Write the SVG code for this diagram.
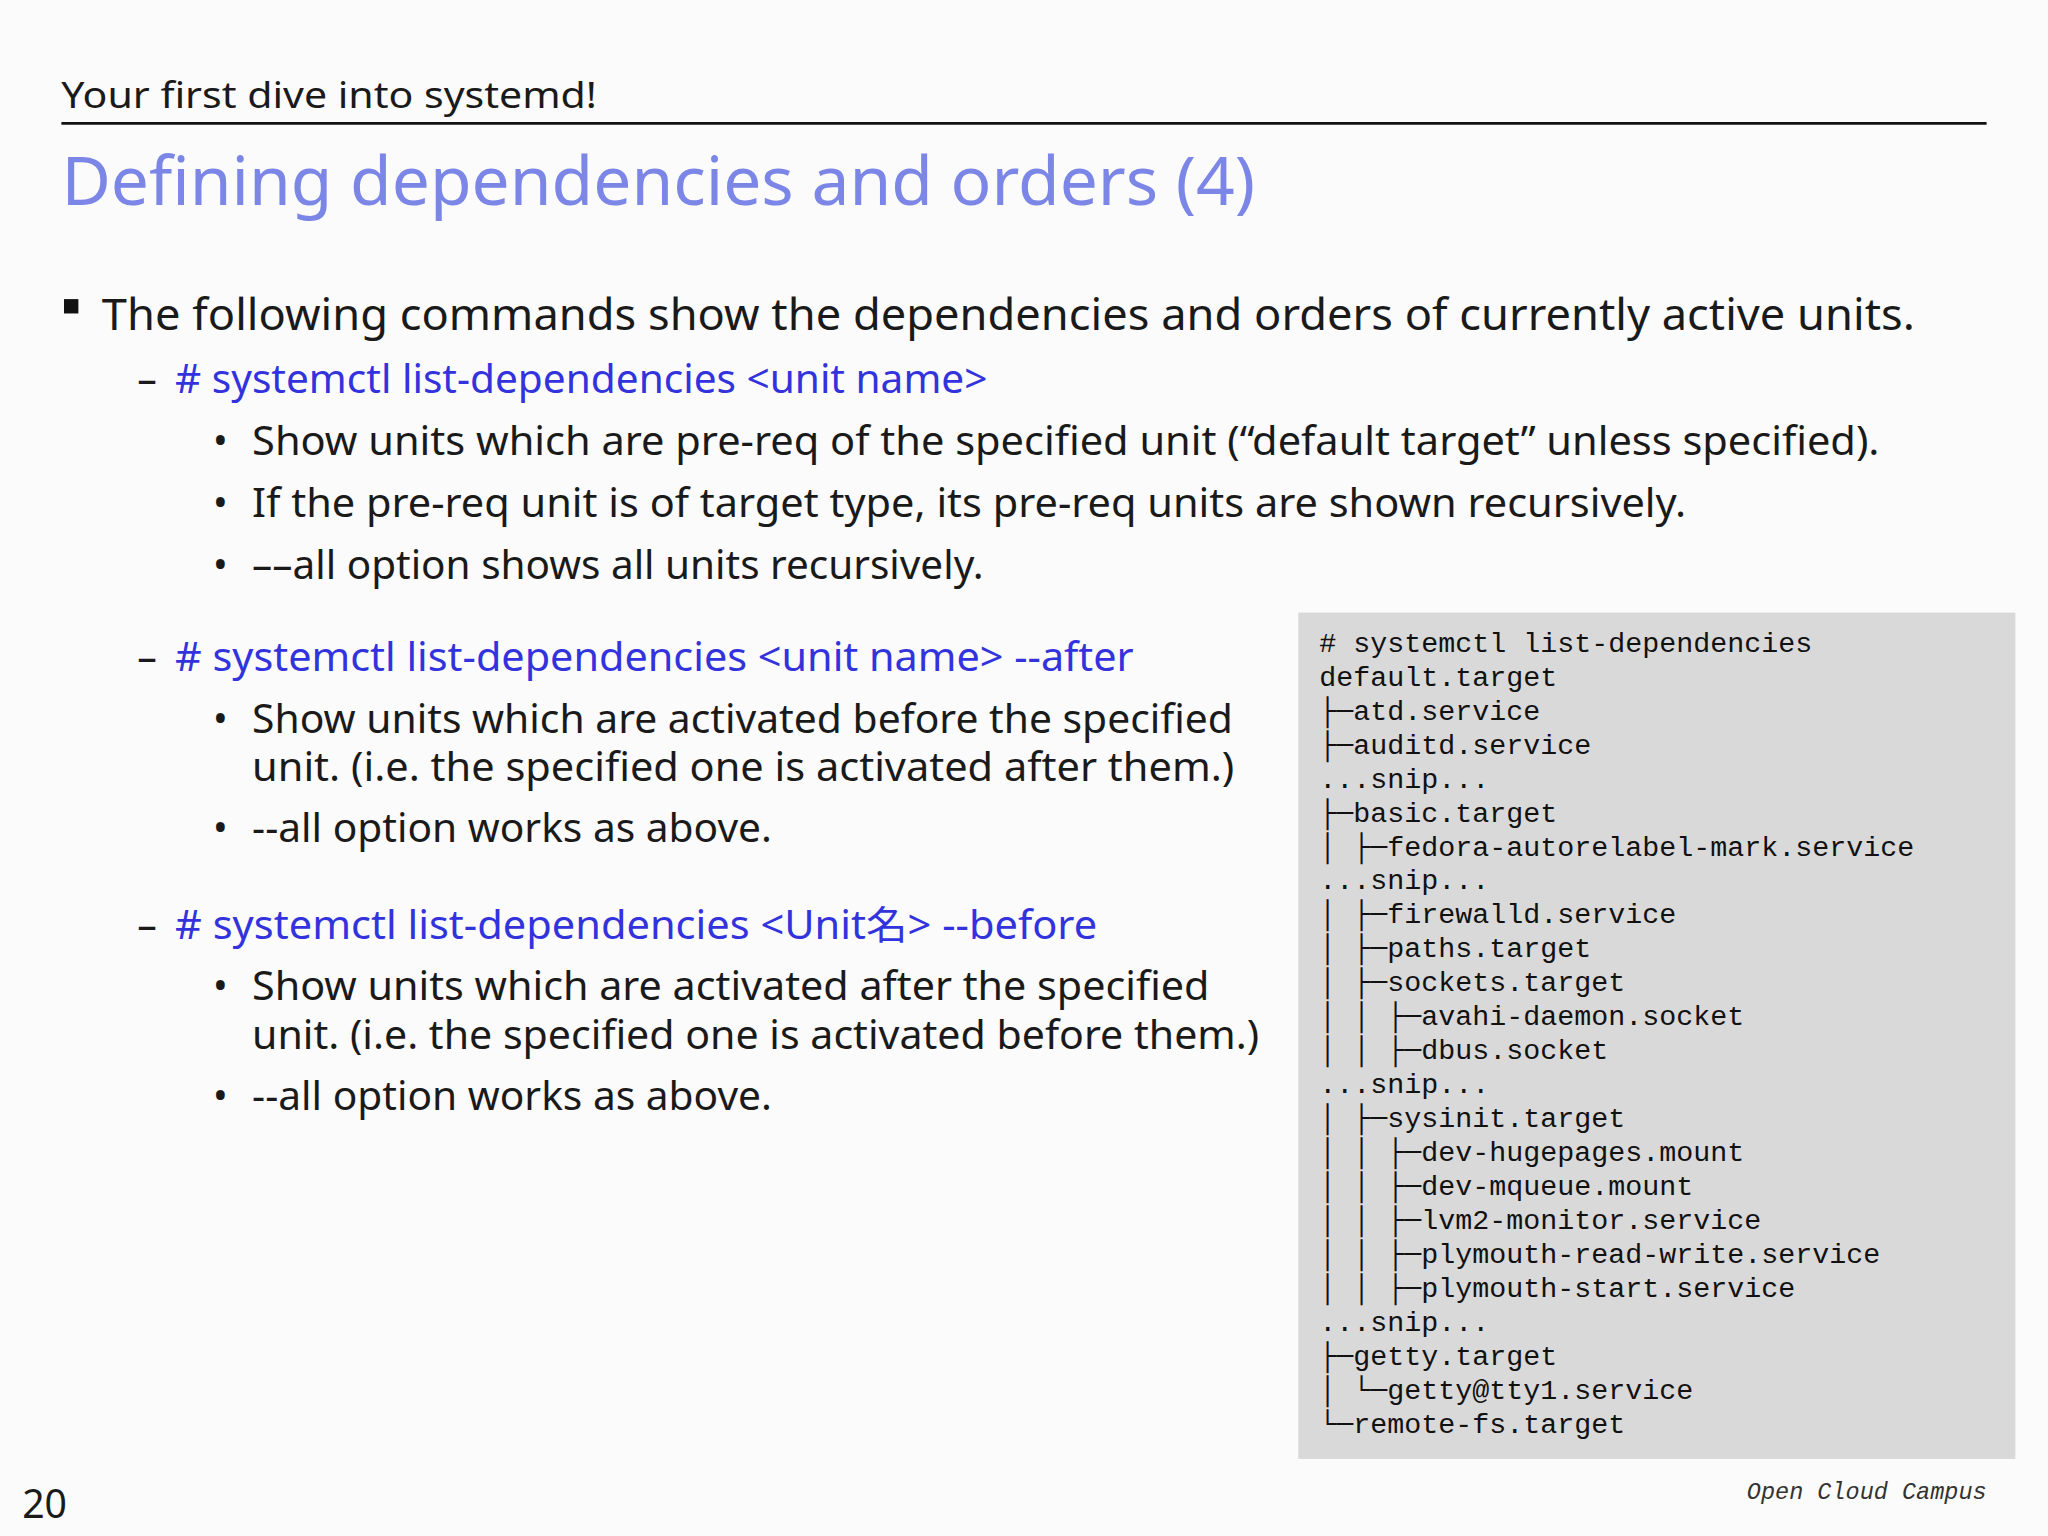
<svg xmlns="http://www.w3.org/2000/svg" width="2048" height="1536" viewBox="0 0 2048 1536">
<style>
.t{font-family:"Noto Sans","Noto Sans CJK JP",sans-serif;fill:#1a1a1a}
.b{font-family:"Noto Sans","Noto Sans CJK JP",sans-serif;fill:#3333dd}
.m{font-family:"Liberation Mono","DejaVu Sans Mono",monospace;font-size:21.7px;fill:#111}
</style>
<rect width="2048" height="1536" fill="#fbfbfb"/>
<g transform="scale(1.30612)">
<g id="header">
<text class="t" x="47" y="83" font-size="28" textLength="410" lengthAdjust="spacingAndGlyphs">Your first dive into systemd!</text>
<line x1="47" y1="94.5" x2="1521" y2="94.5" stroke="#111" stroke-width="2"/>
<text x="47" y="157" font-family="Noto Sans, sans-serif" font-size="52" fill="#7b86e6" textLength="914" lengthAdjust="spacingAndGlyphs">Defining dependencies and orders (4)</text>
</g>
<g id="body">
<rect x="49" y="229" width="11" height="11" fill="#111"/>
<text class="t" x="78" y="253" font-size="34" textLength="1388" lengthAdjust="spacingAndGlyphs">The following commands show the dependencies and orders of currently active units.</text>
<text class="t" x="105" y="301" font-size="30">–</text>
<text class="b" x="134" y="301" font-size="30" textLength="622" lengthAdjust="spacingAndGlyphs"># systemctl list-dependencies &lt;unit name&gt;</text>
<text class="t" x="163" y="348" font-size="30">•</text>
<text class="t" x="193" y="348" font-size="30" textLength="1246" lengthAdjust="spacingAndGlyphs">Show units which are pre-req of the specified unit (“default target” unless specified).</text>
<text class="t" x="163" y="396" font-size="30">•</text>
<text class="t" x="193" y="396" font-size="30" textLength="1098" lengthAdjust="spacingAndGlyphs">If the pre-req unit is of target type, its pre-req units are shown recursively.</text>
<text class="t" x="163" y="443" font-size="30">•</text>
<text class="t" x="193" y="443" font-size="30" textLength="560" lengthAdjust="spacingAndGlyphs">––all option shows all units recursively.</text>

<text class="t" x="105" y="514" font-size="30">–</text>
<text class="b" x="134" y="514" font-size="30" textLength="734" lengthAdjust="spacingAndGlyphs"># systemctl list-dependencies &lt;unit name&gt; --after</text>
<text class="t" x="163" y="561" font-size="30">•</text>
<text class="t" x="193" y="561" font-size="30" textLength="751" lengthAdjust="spacingAndGlyphs">Show units which are activated before the specified</text>
<text class="t" x="193" y="598" font-size="30" textLength="752" lengthAdjust="spacingAndGlyphs">unit. (i.e. the specified one is activated after them.)</text>
<text class="t" x="163" y="645" font-size="30">•</text>
<text class="t" x="193" y="645" font-size="30" textLength="398" lengthAdjust="spacingAndGlyphs">--all option works as above.</text>

<text class="t" x="105" y="719" font-size="30">–</text>
<text class="b" x="134" y="719" font-size="30" textLength="706" lengthAdjust="spacingAndGlyphs"># systemctl list-dependencies &lt;Unit名&gt; --before</text>
<text class="t" x="163" y="766" font-size="30">•</text>
<text class="t" x="193" y="766" font-size="30" textLength="733" lengthAdjust="spacingAndGlyphs">Show units which are activated after the specified</text>
<text class="t" x="193" y="803" font-size="30" textLength="771" lengthAdjust="spacingAndGlyphs">unit. (i.e. the specified one is activated before them.)</text>
<text class="t" x="163" y="850" font-size="30">•</text>
<text class="t" x="193" y="850" font-size="30" textLength="398" lengthAdjust="spacingAndGlyphs">--all option works as above.</text>
</g>
<g id="code">
<rect x="994" y="469" width="549" height="648" fill="#d9d9d9"/>
<text class="m" xml:space="preserve"><tspan x="1010" y="499"># systemctl list-dependencies</tspan><tspan x="1010" y="525">default.target</tspan><tspan x="1010" y="551">├─atd.service</tspan><tspan x="1010" y="577">├─auditd.service</tspan><tspan x="1010" y="603">...snip...</tspan><tspan x="1010" y="629">├─basic.target</tspan><tspan x="1010" y="655">│ ├─fedora-autorelabel-mark.service</tspan><tspan x="1010" y="681">...snip...</tspan><tspan x="1010" y="707">│ ├─firewalld.service</tspan><tspan x="1010" y="733">│ ├─paths.target</tspan><tspan x="1010" y="759">│ ├─sockets.target</tspan><tspan x="1010" y="785">│ │ ├─avahi-daemon.socket</tspan><tspan x="1010" y="811">│ │ ├─dbus.socket</tspan><tspan x="1010" y="837">...snip...</tspan><tspan x="1010" y="863">│ ├─sysinit.target</tspan><tspan x="1010" y="889">│ │ ├─dev-hugepages.mount</tspan><tspan x="1010" y="915">│ │ ├─dev-mqueue.mount</tspan><tspan x="1010" y="941">│ │ ├─lvm2-monitor.service</tspan><tspan x="1010" y="967">│ │ ├─plymouth-read-write.service</tspan><tspan x="1010" y="993">│ │ ├─plymouth-start.service</tspan><tspan x="1010" y="1019">...snip...</tspan><tspan x="1010" y="1045">├─getty.target</tspan><tspan x="1010" y="1071">│ └─getty@tty1.service</tspan><tspan x="1010" y="1097">└─remote-fs.target</tspan></text>
</g>
<g id="footer">
<text class="t" x="17" y="1162" font-size="30">20</text>
<text x="1521" y="1148" text-anchor="end" font-family="Liberation Mono, monospace" font-style="italic" font-size="18" fill="#333">Open Cloud Campus</text>
</g>
</g>
</svg>
